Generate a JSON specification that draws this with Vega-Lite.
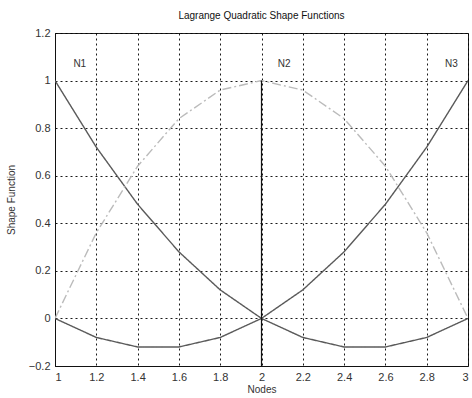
{
  "$schema": "https://vega.github.io/schema/vega-lite/v6.json",
  "autosize": "none",
  "width": 413,
  "height": 333,
  "padding": {"left": 55, "top": 33, "right": 4, "bottom": 32},
  "background": "white",
  "config": {
    "view": {"stroke": "#222", "strokeWidth": 1},
    "font": "Liberation Sans",
    "axis": {
      "grid": true,
      "gridColor": "#000",
      "gridDash": [2, 3],
      "gridOpacity": 0.9,
      "gridWidth": 1,
      "domainColor": "#111",
      "ticks": false,
      "labelFont": "Liberation Sans",
      "labelFontSize": 11,
      "labelColor": "#333",
      "titleFont": "Liberation Sans",
      "titleFontSize": 10,
      "titleFontWeight": "normal",
      "titleColor": "#333"
    }
  },
  "title": {
    "text": "Lagrange Quadratic Shape Functions",
    "font": "Liberation Sans",
    "fontSize": 10,
    "fontWeight": "normal",
    "color": "#111",
    "offset": 6
  },
  "datasets": {
    "curves": [
      {"x": 1.0, "y": 1.0, "s": "N1"}, {"x": 1.2, "y": 0.72, "s": "N1"}, {"x": 1.4, "y": 0.48, "s": "N1"},
      {"x": 1.6, "y": 0.28, "s": "N1"}, {"x": 1.8, "y": 0.12, "s": "N1"}, {"x": 2.0, "y": 0.0, "s": "N1"},
      {"x": 2.2, "y": -0.08, "s": "N1"}, {"x": 2.4, "y": -0.12, "s": "N1"}, {"x": 2.6, "y": -0.12, "s": "N1"},
      {"x": 2.8, "y": -0.08, "s": "N1"}, {"x": 3.0, "y": 0.0, "s": "N1"},
      {"x": 1.0, "y": 0.0, "s": "N2"}, {"x": 1.2, "y": 0.36, "s": "N2"}, {"x": 1.4, "y": 0.64, "s": "N2"},
      {"x": 1.6, "y": 0.84, "s": "N2"}, {"x": 1.8, "y": 0.96, "s": "N2"}, {"x": 2.0, "y": 1.0, "s": "N2"},
      {"x": 2.2, "y": 0.96, "s": "N2"}, {"x": 2.4, "y": 0.84, "s": "N2"}, {"x": 2.6, "y": 0.64, "s": "N2"},
      {"x": 2.8, "y": 0.36, "s": "N2"}, {"x": 3.0, "y": 0.0, "s": "N2"},
      {"x": 1.0, "y": 0.0, "s": "N3"}, {"x": 1.2, "y": -0.08, "s": "N3"}, {"x": 1.4, "y": -0.12, "s": "N3"},
      {"x": 1.6, "y": -0.12, "s": "N3"}, {"x": 1.8, "y": -0.08, "s": "N3"}, {"x": 2.0, "y": 0.0, "s": "N3"},
      {"x": 2.2, "y": 0.12, "s": "N3"}, {"x": 2.4, "y": 0.28, "s": "N3"}, {"x": 2.6, "y": 0.48, "s": "N3"},
      {"x": 2.8, "y": 0.72, "s": "N3"}, {"x": 3.0, "y": 1.0, "s": "N3"}
    ],
    "labels": [
      {"x": 1.12, "y": 1.07, "t": "N1"},
      {"x": 2.11, "y": 1.07, "t": "N2"},
      {"x": 2.92, "y": 1.07, "t": "N3"}
    ],
    "vline": [
      {"x": 2, "y": -0.2, "y2": 1}
    ]
  },
  "layer": [
    {
      "data": {"name": "curves"},
      "mark": {"type": "line", "strokeWidth": 1.4, "clip": true},
      "encoding": {
        "x": {
          "field": "x", "type": "quantitative",
          "scale": {"domain": [1, 3], "nice": false, "zero": false},
          "axis": {
            "title": "Nodes",
            "values": [1, 1.2, 1.4, 1.6, 1.8, 2, 2.2, 2.4, 2.6, 2.8, 3],
            "format": "~g",
            "labelPadding": 5,
            "titlePadding": 2
          }
        },
        "y": {
          "field": "y", "type": "quantitative",
          "scale": {"domain": [-0.2, 1.2], "nice": false, "zero": false},
          "axis": {
            "title": "Shape Function",
            "values": [-0.2, 0, 0.2, 0.4, 0.6, 0.8, 1, 1.2],
            "format": "~g",
            "labelPadding": 5,
            "titlePadding": 12
          }
        },
        "color": {
          "field": "s", "type": "nominal",
          "scale": {"domain": ["N1", "N2", "N3"], "range": ["#5a5a5a", "#bbbbbb", "#5a5a5a"]},
          "legend": null
        },
        "strokeDash": {
          "field": "s", "type": "nominal",
          "scale": {"domain": ["N1", "N2", "N3"], "range": [[1, 0], [9, 3, 2, 3], [1, 0]]},
          "legend": null
        }
      }
    },
    {
      "data": {"name": "vline"},
      "mark": {"type": "rule", "color": "#111", "strokeWidth": 1.2},
      "encoding": {
        "x": {"field": "x", "type": "quantitative"},
        "y": {"field": "y", "type": "quantitative"},
        "y2": {"field": "y2"}
      }
    },
    {
      "data": {"name": "labels"},
      "mark": {"type": "text", "font": "Liberation Sans", "fontSize": 10, "color": "#333", "align": "center", "baseline": "middle"},
      "encoding": {
        "x": {"field": "x", "type": "quantitative"},
        "y": {"field": "y", "type": "quantitative"},
        "text": {"field": "t"}
      }
    }
  ]
}
